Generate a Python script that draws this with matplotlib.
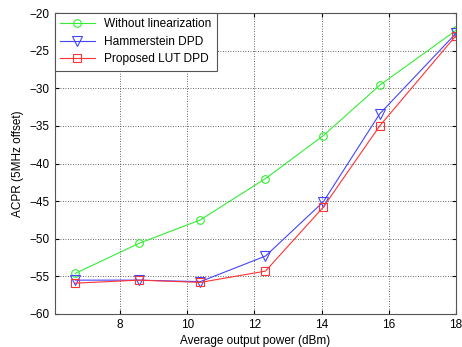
import matplotlib.pyplot as plt

plt.rcParams['font.family'] = ['Liberation Sans', 'DejaVu Sans']

power = [6.67, 8.57, 10.39, 12.33, 14.05, 15.73, 18.0]
acpr_without = [-54.6, -50.6, -47.5, -42.0, -36.3, -29.6, -22.3]
acpr_hammerstein = [-55.5, -55.5, -55.7, -52.3, -45.1, -33.4, -22.7]
acpr_lut = [-55.9, -55.5, -55.8, -54.3, -45.8, -35.0, -23.0]

labels = ["Without linearization", "Hammerstein DPD", "Proposed LUT DPD"]
xticks = [8, 10, 12, 14, 16, 18]
yticks = [-60, -55, -50, -45, -40, -35, -30, -25, -20]

fig = plt.figure(figsize=(4.62, 3.47), dpi=100)
ax = fig.add_axes([54.5 / 462, 1 - 314 / 347, (456 - 54.5) / 462, (314 - 13) / 347])

ax.plot(power, acpr_without, color="#33ee33", lw=0.8, marker="o", ms=5.5,
        mfc="none", mew=0.8, label=labels[0])
ax.plot(power, acpr_hammerstein, color="#4444ff", lw=0.8, marker="v", ms=6.5,
        mfc="none", mew=0.8, label=labels[1])
ax.plot(power, acpr_lut, color="#ff3333", lw=0.8, marker="s", ms=5.5,
        mfc="none", mew=0.8, label=labels[2])

ax.set_xlim(6.05, 18)
ax.set_ylim(-60, -20)
ax.set_xticks(xticks)
ax.set_yticks(yticks)
ax.grid(True, color="#333333", linestyle=(0, (1, 2)), linewidth=0.6)
ax.tick_params(direction="in", labelsize=8.5, length=3, top=True, right=True)
for s in ax.spines.values():
    s.set_color("#555555")
    s.set_linewidth(0.8)

ax.set_xlabel("Average output power (dBm)", fontsize=8.5, labelpad=3)
ax.set_ylabel("ACPR (5MHz offset)", fontsize=8.5, labelpad=4)

leg = ax.legend(loc="upper left", fontsize=8.6, fancybox=False, framealpha=1,
                edgecolor="#555555", borderaxespad=0, handlelength=2.9,
                labelspacing=0.45, borderpad=0.45)
leg.get_frame().set_linewidth(0.8)

fig.savefig("out.png", dpi=100)
